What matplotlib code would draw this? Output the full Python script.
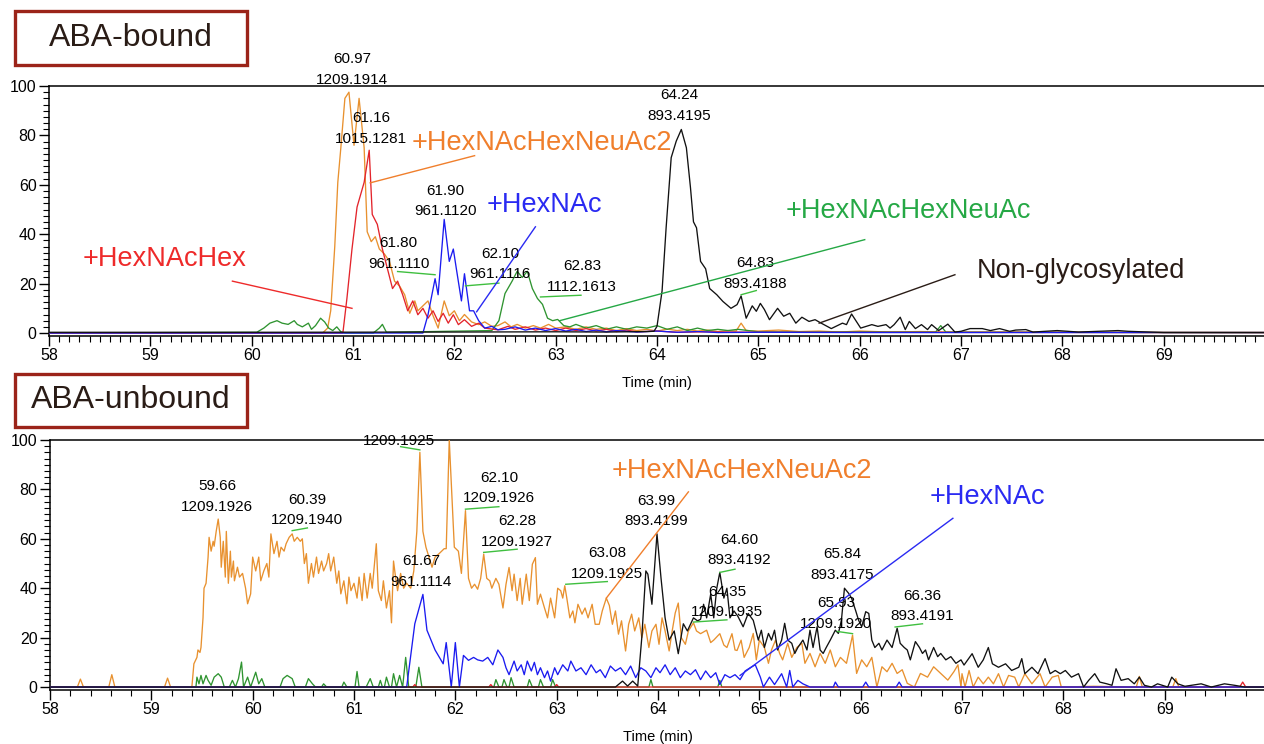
import matplotlib
matplotlib.use("Agg")
import matplotlib.pyplot as plt
from matplotlib.patches import Rectangle
from matplotlib.ticker import MultipleLocator, FixedLocator

plt.rcParams['font.family'] = ['Liberation Sans', 'DejaVu Sans']

# ---------------- ABA-bound panel (time in min, relative abundance %) ----------------
bound_orange_t = [58.0, 60.70, 60.75, 60.78, 60.82, 60.85, 60.88, 60.92, 60.96, 61.01,
                  61.06, 61.11, 61.14, 61.18, 61.22, 61.26, 61.31, 61.36, 61.41, 61.46,
                  61.51, 61.56, 61.61, 61.64, 61.69, 61.74, 61.79, 61.84, 61.90, 61.95,
                  62.00, 62.05, 62.10, 62.17, 62.24, 62.30, 62.37, 62.43, 62.50, 62.56,
                  62.62, 62.70, 62.78, 62.85, 62.93, 63.00, 63.10, 63.20, 63.30, 63.40,
                  63.50, 63.60, 63.70, 63.80, 63.90, 64.00, 64.10, 64.20, 64.30, 64.40,
                  64.50, 64.60, 64.70, 64.78, 64.83, 64.88, 65.00, 65.20, 65.40, 65.60,
                  65.80, 66.00, 66.30, 66.60, 67.00, 67.50, 68.00, 69.00, 70.00]
bound_orange_i = [0, 0, 2, 9, 35, 61, 75, 95, 97.5, 76,
                  95, 75, 41, 37, 39, 34, 32, 29, 21, 19,
                  15.5, 8, 13, 9, 11, 13, 7, 2, 13, 7,
                  9, 5, 7.5, 4.5, 3.4, 4.5, 2.7, 3, 4.5, 2.5,
                  3.5, 2, 3, 2, 3.5, 2, 2.5, 1.5, 2.5, 1.5,
                  2, 1, 1.8, 1, 1.5, 0.8, 1.6, 1, 1.5, 0.8,
                  1.2, 0.6, 1, 0.8, 4, 1, 0.8, 1.2, 0.6, 0.8,
                  0.4, 0.8, 0.4, 0.6, 0.3, 0.4, 0.3, 0.2, 0.2]

bound_red_t = [58.0, 60.90, 60.94, 60.99, 61.04, 61.11, 61.16, 61.19, 61.24, 61.29,
               61.34, 61.39, 61.44, 61.49, 61.54, 61.59, 61.64, 61.69, 61.74, 61.79,
               61.84, 61.89, 61.94, 61.99, 62.04, 62.10, 62.17, 62.24, 62.30, 62.43,
               62.53, 62.60, 62.70, 62.80, 62.90, 63.00, 63.10, 63.20, 63.30, 63.40,
               63.50, 63.60, 63.70, 63.80, 64.00, 64.20, 64.50, 65.00, 70.00]
bound_red_i = [0, 0, 14, 34, 51, 61, 74, 48, 44, 34,
               26, 18, 21, 15.5, 9, 13, 7.4, 10, 6, 9,
               4.7, 8, 4, 7.4, 3.4, 5.4, 2.7, 4, 2, 1.3,
               2.7, 1.5, 2.5, 1.2, 2, 1, 2, 1, 1.8, 0.8,
               1.5, 0.6, 1.2, 0.5, 0.8, 0.3, 0.5, 0.3, 0.2]

bound_blue_t = [58.0, 61.69, 61.74, 61.81, 61.84, 61.90, 61.95, 61.99, 62.02, 62.07,
                62.10, 62.15, 62.19, 62.24, 62.30, 62.37, 62.43, 62.50, 62.60, 62.70,
                62.80, 62.90, 63.00, 63.10, 63.20, 63.30, 63.40, 63.50, 63.60, 63.80,
                64.00, 64.20, 64.40, 64.60, 65.00, 66.00, 70.00]
bound_blue_i = [0, 0, 7.4, 22, 15.5, 46, 29, 34, 26, 13,
                24, 9, 9, 5, 2, 2.7, 1.3, 1.5, 2.5, 1.2,
                2, 1, 1.8, 0.8, 1.5, 0.6, 1.2, 0.5, 1, 0.4,
                0.8, 0.3, 0.6, 0.2, 0.3, 0.2, 0.2]

bound_green_t = [58.0, 60.05, 60.12, 60.18, 60.25, 60.30, 60.36, 60.42, 60.45, 60.50,
                 60.56, 60.59, 60.63, 60.68, 60.72, 60.76, 60.80, 60.84, 60.88, 60.92,
                 61.20, 61.26, 61.29, 61.33, 62.37, 62.44, 62.50, 62.57, 62.62, 62.67,
                 62.72, 62.77, 62.82, 62.87, 62.92, 62.97, 63.02, 63.08, 63.14, 63.20,
                 63.30, 63.40, 63.50, 63.60, 63.70, 63.80, 63.90, 64.00, 64.10, 64.20,
                 64.30, 64.40, 64.50, 64.60, 64.70, 64.80, 64.90, 65.00, 65.50, 66.00,
                 66.50, 66.75, 66.80, 66.85, 67.50, 70.00]
bound_green_i = [0, 0.3, 2, 4, 5, 4, 3.5, 5, 3.5, 2.5,
                 4, 1.5, 3, 6, 4.5, 2, 1, 2.5, 0.5, 0,
                 0, 2, 3.5, 0.3, 1, 5, 16, 21, 25, 22.5,
                 25, 18, 14, 11.6, 6, 5, 5.5, 3, 2.5, 3.5,
                 2, 3, 1.5, 2.5, 1.5, 2.5, 2, 3, 1.5, 2.5,
                 1, 2, 1, 1.5, 1, 1.5, 1, 0.5, 0.4, 0.5,
                 0.4, 0.4, 3, 0.4, 0.3, 0.2]

bound_black_t = [58.0, 60.0, 62.0, 63.0, 63.5, 63.9, 63.97, 64.00, 64.05, 64.09,
                 64.14, 64.19, 64.24, 64.29, 64.33, 64.36, 64.39, 64.43, 64.48, 64.52,
                 64.59, 64.65, 64.73, 64.79, 64.83, 64.88, 64.94, 64.98, 65.02, 65.06,
                 65.11, 65.19, 65.25, 65.31, 65.37, 65.43, 65.50, 65.56, 65.62, 65.72,
                 65.83, 65.87, 65.92, 66.01, 66.12, 66.18, 66.26, 66.30, 66.34, 66.40,
                 66.45, 66.49, 66.55, 66.61, 66.67, 66.71, 66.78, 66.87, 66.94, 67.00,
                 67.09, 67.21, 67.29, 67.38, 67.48, 67.54, 67.64, 67.71, 67.95, 68.16,
                 68.55, 68.65, 69.00, 70.00]
bound_black_i = [0.3, 0.3, 0.4, 0.5, 0.4, 0.6, 0.7, 2.7, 17, 42.6,
                 71, 77.7, 82.4, 75, 59, 45, 42.6, 29, 26, 18,
                 15.5, 12.8, 10, 11.5, 15, 6, 11, 8.8, 12, 9.5,
                 5.4, 10, 6.8, 8, 4, 6.4, 4.7, 5.4, 4, 1.8,
                 4, 3.4, 7.7, 2, 3.4, 2.7, 3.4, 2, 3.4, 6.4,
                 1.4, 4.7, 1.8, 3.4, 1.4, 3.4, 1, 3.6, 0.4, 0.7,
                 1.8, 1.8, 1, 1.8, 0.7, 1.2, 1.4, 0.4, 1, 0.4,
                 1, 0.7, 0.2, 0.2]

# ---------------- ABA-unbound panel ----------------
unbound_orange_t = [58.0, 58.27, 58.30, 58.33, 58.58, 58.61, 58.64, 59.13, 59.16, 59.19,
                    59.40, 59.42, 59.45, 59.46, 59.48, 59.49, 59.51, 59.52, 59.54, 59.56,
                    59.57, 59.59, 59.61, 59.62, 59.64, 59.66, 59.68, 59.69, 59.71, 59.73,
                    59.74, 59.76, 59.78, 59.79, 59.81, 59.82, 59.85, 59.87, 59.90, 59.93,
                    59.95, 59.98, 60.00, 60.03, 60.06, 60.08, 60.11, 60.14, 60.16, 60.18,
                    60.21, 60.24, 60.26, 60.28, 60.31, 60.33, 60.36, 60.39, 60.41, 60.44,
                    60.47, 60.49, 60.51, 60.53, 60.55, 60.58, 60.60, 60.63, 60.65, 60.68,
                    60.70, 60.73, 60.75, 60.77, 60.80, 60.83, 60.85, 60.87, 60.90, 60.93,
                    60.95, 60.97, 61.00, 61.03, 61.05, 61.08, 61.10, 61.13, 61.16, 61.18,
                    61.22, 61.24, 61.27, 61.29, 61.32, 61.35, 61.37, 61.39, 61.41, 61.43,
                    61.46, 61.49, 61.52, 61.56, 61.59, 61.62, 61.65, 61.68, 61.71, 61.74,
                    61.77, 61.80, 61.84, 61.89, 61.91, 61.94, 61.99, 62.03, 62.06, 62.10,
                    62.13, 62.16, 62.19, 62.22, 62.25, 62.28, 62.31, 62.34, 62.36, 62.40,
                    62.43, 62.47, 62.50, 62.53, 62.56, 62.58, 62.61, 62.64, 62.66, 62.70,
                    62.73, 62.76, 62.79, 62.81, 62.84, 62.88, 62.91, 62.94, 62.98, 63.01,
                    63.04, 63.06, 63.08, 63.10, 63.13, 63.16, 63.18, 63.21, 63.25, 63.28,
                    63.31, 63.35, 63.38, 63.42, 63.45, 63.49, 63.52, 63.55, 63.58, 63.61,
                    63.64, 63.68, 63.71, 63.74, 63.77, 63.81, 63.84, 63.87, 63.91, 63.94,
                    63.98, 64.01, 64.04, 64.07, 64.11, 64.14, 64.17, 64.20, 64.23, 64.27,
                    64.30, 64.35, 64.38, 64.42, 64.48, 64.52, 64.55, 64.61, 64.65, 64.68,
                    64.73, 64.76, 64.78, 64.82, 64.85, 64.90, 64.94, 64.97, 65.00, 65.05,
                    65.09, 65.12, 65.16, 65.20, 65.23, 65.28, 65.32, 65.37, 65.42, 65.45,
                    65.50, 65.55, 65.60, 65.65, 65.70, 65.75, 65.80, 65.86, 65.92, 65.96,
                    66.01, 66.06, 66.11, 66.16, 66.21, 66.26, 66.31, 66.36, 66.41, 66.46,
                    66.53, 66.59, 66.66, 66.72, 66.79, 66.86, 66.92, 66.96, 66.99, 67.00,
                    67.03, 67.07, 67.11, 67.16, 67.21, 67.26, 67.31, 67.36, 67.41, 67.46,
                    67.52, 67.56, 67.62, 67.69, 67.77, 67.82, 67.89, 67.95, 67.98, 68.30,
                    68.72, 68.75, 68.78, 69.08, 69.11, 69.14, 70.00]
unbound_orange_i = [0, 0, 3.2, 0, 0, 5, 0, 0, 3.6, 0,
                    0, 9.4, 12, 15, 14, 16, 28, 40, 42, 52.6,
                    60.6, 55, 59, 57, 63, 68, 60.6, 48.5, 59, 44.5,
                    63, 42, 55, 44.5, 51, 43, 48.5, 44.5, 46, 40,
                    33.7, 37.7, 52.6, 47, 52.6, 43, 47, 50, 44.5, 62,
                    54, 59, 52.6, 56.6, 55, 58, 60.6, 62, 59, 60.6,
                    59, 60, 50, 54, 42, 50, 44.5, 52.6, 46, 51,
                    47, 50, 54, 47, 52.6, 42, 47, 37.7, 43, 33.7,
                    44.5, 39, 42, 36, 44.5, 35, 46, 36, 46, 40,
                    58, 39, 35, 43, 32, 39, 26, 51, 44.5, 39,
                    46, 40, 42, 40, 47, 63, 95, 63, 56.6, 52.6,
                    48.5, 52.6, 54, 56, 56, 100, 56.6, 55, 46, 71.4,
                    44, 40, 41.6, 39.6, 44, 53.8, 44, 43, 40, 44,
                    41.6, 32, 41.6, 48.4, 39, 45.7, 35, 44, 33.5, 45.7,
                    35, 49.7, 52.4, 33.5, 37.6, 32, 28, 36, 28, 40,
                    39, 36, 41, 36, 28, 30.8, 26, 33.5, 29.5, 32,
                    28, 33.5, 25.4, 25.4, 30.8, 36, 33, 25.4, 30.8, 21.4,
                    26.8, 14.6, 25.4, 29.5, 22.7, 28, 20, 25.4, 16, 22.7,
                    25.4, 17.3, 28, 22.7, 14.6, 22.7, 30, 34, 20, 17.3,
                    22.7, 26, 22.7, 21.6, 23, 18, 19, 21.6, 17, 16,
                    21.6, 15, 14.8, 19, 12, 16, 21.7, 11, 19, 16,
                    9.6, 15, 19, 13.6, 11, 17.7, 12, 16, 17.7, 9.6,
                    13.6, 8.2, 13.6, 9.6, 15, 8.2, 12, 9.6, 21, 5.5,
                    11, 8.2, 12, 0, 8.2, 6.2, 9.6, 5.5, 7, 1.5,
                    0, 5.5, 4, 8.2, 5.5, 2.8, 6.2, 9, 0, 5.4,
                    0, 6.7, 0, 4, 1.3, 4, 1.3, 5.4, 0, 4.7,
                    4, 0, 5.4, 1.3, 5.4, 0, 4, 4.7, 0, 0.3,
                    0, 4.3, 0, 0, 3.4, 0, 0]

unbound_blue_t = [58.0, 61.52, 61.60, 61.68, 61.72, 61.80, 61.88, 61.91, 61.96, 62.00,
                  62.04, 62.08, 62.13, 62.18, 62.22, 62.27, 62.32, 62.37, 62.42, 62.47,
                  62.50, 62.53, 62.58, 62.61, 62.65, 62.68, 62.71, 62.75, 62.78, 62.81,
                  62.84, 62.88, 62.91, 62.94, 62.98, 63.01, 63.06, 63.11, 63.14, 63.19,
                  63.24, 63.29, 63.34, 63.39, 63.43, 63.48, 63.53, 63.58, 63.63, 63.68,
                  63.73, 63.78, 63.83, 63.88, 63.93, 63.98, 64.02, 64.07, 64.12, 64.17,
                  64.22, 64.27, 64.32, 64.37, 64.42, 64.47, 64.52, 64.57, 64.61, 64.66,
                  64.71, 64.76, 64.81, 64.86, 64.91, 64.96, 65.01, 65.04, 65.10, 65.15,
                  65.22, 65.27, 65.30, 65.33, 65.38, 65.43, 65.50, 65.73, 65.75, 65.78,
                  66.02, 66.05, 66.08, 66.35, 66.38, 66.41, 70.00]
unbound_blue_i = [0, 0, 25.6, 37.5, 23, 15, 9.4, 18, 0, 18,
                  0, 12.8, 10.8, 12, 11, 10.5, 12, 9, 15, 12,
                  7.8, 5, 10.5, 6.5, 9, 5, 10.5, 6.5, 10, 5,
                  7.8, 3.8, 6.5, 2.4, 7.8, 5, 9, 6.5, 10.5, 6.5,
                  7.8, 5, 9, 5.8, 7, 3.8, 8.5, 6.5, 7.8, 5,
                  8.5, 3.8, 7.8, 6.5, 3.8, 7.8, 5.8, 9, 5, 7.8,
                  3.8, 6.5, 5, 7, 3, 6.5, 3.8, 5.8, 1, 5,
                  3.8, 5, 3, 6.5, 7.8, 9, 4, 0, 4, 1,
                  5.4, 0, 6.7, 0, 2.7, 1.3, 0, 0, 2, 0,
                  0, 2, 0, 0, 2, 0, 0]

unbound_green_t = [58.0, 59.44, 59.45, 59.47, 59.49, 59.51, 59.54, 59.56, 59.59, 59.62,
                   59.66, 59.69, 59.72, 59.77, 59.80, 59.83, 59.86, 59.89, 59.91, 59.95,
                   59.98, 60.03, 60.06, 60.09, 60.12, 60.27, 60.30, 60.34, 60.39, 60.42,
                   60.52, 60.55, 60.59, 60.62, 60.68, 60.70, 60.73, 60.88, 60.90, 60.93,
                   61.01, 61.03, 61.05, 61.12, 61.16, 61.19, 61.24, 61.26, 61.28, 61.30,
                   61.32, 61.35, 61.37, 61.39, 61.42, 61.45, 61.48, 61.51, 61.54, 61.61,
                   61.64, 61.67, 62.38, 62.40, 62.43, 62.46, 62.48, 62.51, 62.53, 62.55,
                   62.58, 62.71, 62.73, 62.76, 62.82, 62.84, 62.87, 62.94, 62.96, 62.99,
                   63.91, 63.93, 63.95, 64.59, 64.61, 64.63, 70.00]
unbound_green_i = [0, 0, 4, 1.3, 4.7, 1.3, 4.7, 2.7, 0.7, 4,
                   5.4, 4, 0, 0, 2.7, 0, 3.4, 10.1, 0, 4,
                   0, 6, 1.3, 3.4, 0, 0, 3.4, 4.7, 3.4, 0,
                   0, 3.4, 1.3, 0, 0, 1.3, 0, 0, 2, 0,
                   0, 6.3, 0, 0, 3.4, 0, 0, 2.7, 0, 0,
                   4, 0, 0, 5.4, 0, 4.7, 0, 12, 0, 0,
                   8, 0, 0, 3, 0, 0, 3, 0, 0, 3.8,
                   0, 0, 3, 0, 0, 3, 0, 0, 3, 0,
                   0, 3, 0, 0, 2.7, 0, 0]

unbound_red_t = [58.0, 61.58, 61.60, 61.62, 62.33, 62.35, 62.37, 62.98, 63.00, 63.02,
                 69.74, 69.77, 69.80, 70.00]
unbound_red_i = [0, 0, 1, 0, 0, 1, 0, 0, 1, 0,
                 0, 2, 0, 0]

unbound_black_t = [58.0, 63.58, 63.65, 63.70, 63.75, 63.80, 63.84, 63.88, 63.90, 63.94,
                   63.99, 64.03, 64.07, 64.11, 64.16, 64.20, 64.25, 64.29, 64.32, 64.35,
                   64.39, 64.42, 64.45, 64.48, 64.52, 64.55, 64.58, 64.61, 64.65, 64.68,
                   64.71, 64.75, 64.79, 64.84, 64.89, 64.94, 64.99, 65.02, 65.05, 65.09,
                   65.12, 65.15, 65.18, 65.22, 65.25, 65.28, 65.32, 65.35, 65.38, 65.43,
                   65.47, 65.50, 65.53, 65.57, 65.60, 65.63, 65.66, 65.70, 65.75, 65.78,
                   65.81, 65.84, 65.88, 65.91, 65.95, 65.98, 66.01, 66.05, 66.08, 66.11,
                   66.14, 66.18, 66.21, 66.26, 66.31, 66.36, 66.39, 66.43, 66.46, 66.49,
                   66.54, 66.58, 66.61, 66.64, 66.67, 66.72, 66.76, 66.79, 66.84, 66.89,
                   66.94, 66.99, 67.02, 67.10, 67.16, 67.21, 67.26, 67.30, 67.36, 67.43,
                   67.49, 67.56, 67.59, 67.62, 67.69, 67.75, 67.82, 67.87, 67.92, 67.97,
                   68.02, 68.08, 68.15, 68.20, 68.25, 68.31, 68.36, 68.43, 68.48, 68.52,
                   68.57, 68.64, 68.70, 68.75, 68.80, 68.87, 68.93, 69.03, 69.07, 69.13,
                   69.20, 69.36, 69.46, 69.59, 69.69, 69.79, 70.00]
unbound_black_i = [0, 0, 2.4, 0.4, 2.4, 0.4, 20, 47, 45.7, 33.5,
                   62, 44, 28, 19, 22.7, 13.5, 25.6, 22.7, 25.4, 28,
                   26.8, 27.4, 33.5, 28, 37.6, 28, 40, 46.4, 36, 40,
                   28, 30.8, 28.5, 24.4, 29.8, 27, 19, 23, 16, 21.7,
                   19, 23, 15, 19, 25.8, 19, 17.7, 13.6, 16, 19,
                   15, 23, 16, 24.4, 15, 13.6, 16, 19, 23, 21.7,
                   27, 40, 38, 36, 31, 27, 24.4, 30.5, 29.8, 19,
                   16, 17.7, 15, 19, 16, 23.8, 17.7, 16, 15, 11,
                   18.4, 16, 13.6, 15, 11, 16, 12.3, 13.6, 11, 12.3,
                   9.6, 11, 8.9, 13.5, 8, 11, 16, 9.4, 8, 9.4,
                   6.7, 8, 11.5, 5.4, 8, 5.4, 11.5, 5.4, 6.7, 5.4,
                   6.7, 4, 5.4, 0, 2.7, 5.4, 2, 1.3, 0.7, 7.4,
                   2.7, 3.4, 1.3, 4, 0.7, 0, 1.3, 0, 4, 1.3,
                   0.3, 1.3, 0, 1.3, 0.7, 0, 0]

# peak labels: retention time / m/z
bound_peak_labels = ["60.97\n1209.1914", "61.16\n1015.1281", "61.90\n961.1120",
                     "61.80\n961.1110", "62.10\n961.1116", "62.83\n1112.1613",
                     "64.24\n893.4195", "64.83\n893.4188"]
unbound_peak_labels = ["59.66\n1209.1926", "60.39\n1209.1940", "1209.1925",
                       "61.67\n961.1114", "62.10\n1209.1926", "62.28\n1209.1927",
                       "63.08\n1209.1925", "63.99\n893.4199", "64.60\n893.4192",
                       "64.35\n1209.1935", "65.84\n893.4175", "65.93\n1209.1920",
                       "66.36\n893.4191"]
trace_names = ["+HexNAcHexNeuAc2", "+HexNAc", "+HexNAcHexNeuAc", "+HexNAcHex",
               "Non-glycosylated"]
panel_titles = ["ABA-bound", "ABA-unbound"]

# ---------------- styling ----------------
C_OR = "#e8912f"
C_RED = "#e3242b"
C_BLUE = "#1b1bf0"
C_GREEN = "#2f9430"
C_BLACK = "#111111"
T_OR = "#f07f2c"
T_RED = "#ee2a2a"
T_BLUE = "#2a2af2"
T_GREEN = "#25a845"
T_DARK = "#2a1c16"
LEAD_G = "#3fbf3f"
LW = 0.95

fig = plt.figure(figsize=(12.64, 7.44), dpi=100)
W, H = 1264.0, 744.0
ax1 = fig.add_axes([49 / W, 1 - 335.5 / H, 1216 / W, 249.5 / H])
ax2 = fig.add_axes([50 / W, 1 - 689.5 / H, 1216 / W, 249.5 / H])


def style_axis(ax, minor_x):
    ax.set_xlim(58, 70)
    ax.set_ylim(-1, 100)
    ax.spines['right'].set_visible(False)
    for s in ('top', 'left', 'bottom'):
        ax.spines[s].set_linewidth(1.1)
        ax.spines[s].set_color('black')
    ax.xaxis.set_major_locator(FixedLocator(list(range(58, 70))))
    ax.xaxis.set_minor_locator(MultipleLocator(minor_x))
    ax.yaxis.set_major_locator(MultipleLocator(20))
    ax.yaxis.set_minor_locator(MultipleLocator(2.5))
    ax.tick_params(axis='both', which='major', direction='out', length=7,
                   width=1.0, labelsize=11.5, pad=2)
    ax.tick_params(axis='both', which='minor', direction='out', length=4, width=0.8)
    ax.set_xlabel("Time (min)", fontsize=10.5, labelpad=9)


style_axis(ax1, 0.1)
style_axis(ax2, 0.2)

# traces
ax1.plot(bound_orange_t, bound_orange_i, color=C_OR, lw=LW, zorder=3)
ax1.plot(bound_green_t, bound_green_i, color=C_GREEN, lw=LW, zorder=3)
ax1.plot(bound_red_t, bound_red_i, color=C_RED, lw=LW, zorder=4)
ax1.plot(bound_blue_t, bound_blue_i, color=C_BLUE, lw=LW, zorder=4)
ax1.plot(bound_black_t, bound_black_i, color=C_BLACK, lw=LW, zorder=5)

ax2.plot(unbound_orange_t, unbound_orange_i, color=C_OR, lw=LW, zorder=3)
ax2.plot(unbound_green_t, unbound_green_i, color=C_GREEN, lw=LW, zorder=3)
ax2.plot(unbound_red_t, unbound_red_i, color=C_RED, lw=LW, zorder=3)
ax2.plot(unbound_blue_t, unbound_blue_i, color=C_BLUE, lw=LW, zorder=4)
ax2.plot(unbound_black_t, unbound_black_i, color=C_BLACK, lw=LW, zorder=5)

# peak label positions (layout)
pos1 = [(60.99, 106.7), (61.18, 82.8), (61.91, 53.5), (61.45, 32.2),
        (62.45, 27.9), (63.26, 23.0), (64.22, 92.2), (64.97, 24.2)]
pos2 = [(59.65, 77.2), (60.54, 71.6), (61.44, 99.7), (61.66, 46.7),
        (62.43, 80.5), (62.61, 62.9), (63.50, 50.1), (63.98, 71.3),
        (64.80, 55.5), (64.68, 34.5), (65.82, 49.5), (65.76, 29.8),
        (66.61, 32.8)]
for ax, labs, pos in ((ax1, bound_peak_labels, pos1), (ax2, unbound_peak_labels, pos2)):
    for s, (x, y) in zip(labs, pos):
        ax.text(x, y, s, ha='center', va='center', fontsize=11,
                linespacing=1.6, color='black', clip_on=False, zorder=6)

# short green leader lines
lead1 = [((61.44, 24.9), (61.81, 23.6)), ((62.11, 19.1), (62.44, 20.2)),
         ((62.85, 14.6), (63.25, 15.3)), ((64.83, 15.5), (64.98, 17.2))]
lead2 = [((60.39, 63.3), (60.54, 64.4)), ((61.46, 97.3), (61.65, 96.0)),
         ((62.10, 72.0), (62.43, 73.0)), ((62.28, 54.5), (62.61, 55.8)),
         ((63.09, 41.6), (63.50, 42.7)), ((64.61, 46.4), (64.76, 47.7)),
         ((64.35, 26.3), (64.68, 27.2)), ((65.77, 22.5), (65.92, 21.6)),
         ((66.34, 24.3), (66.61, 25.6))]
for ax, leads in ((ax1, lead1), (ax2, lead2)):
    for (x0, y0), (x1, y1) in leads:
        ax.plot([x0, x1], [y0, y1], color=LEAD_G, lw=1.0, zorder=6, clip_on=False)

# big trace-name labels with long leader lines
FS = 19.5
ax1.text(61.58, 77, trace_names[0], color=T_OR, fontsize=FS, va='center', ha='left')
ax1.plot([61.17, 62.20], [60.8, 71.8], color=T_OR, lw=1.0, zorder=6)
ax1.text(62.32, 52, trace_names[1], color=T_BLUE, fontsize=FS, va='center', ha='left')
ax1.plot([62.22, 62.80], [8.6, 43], color=T_BLUE, lw=1.0, zorder=6)
ax1.text(65.27, 49.4, trace_names[2], color=T_GREEN, fontsize=FS, va='center', ha='left')
ax1.plot([63.04, 66.05], [5, 37.8], color=T_GREEN, lw=1.0, zorder=6)
ax1.text(58.33, 30, trace_names[3], color=T_RED, fontsize=FS, va='center', ha='left')
ax1.plot([59.81, 60.99], [21, 10], color=T_RED, lw=1.0, zorder=6)
ax1.text(67.16, 25, trace_names[4], color=T_DARK, fontsize=FS, va='center', ha='left')
ax1.plot([65.60, 66.94], [4, 23.6], color=T_DARK, lw=1.0, zorder=6)

ax2.text(63.54, 87.4, trace_names[0], color=T_OR, fontsize=FS, va='center', ha='left')
ax2.plot([63.49, 64.30], [36, 79], color=T_OR, lw=1.0, zorder=6)
ax2.text(66.68, 77, trace_names[1], color=T_BLUE, fontsize=FS, va='center', ha='left')
ax2.plot([64.81, 66.91], [4.7, 68.3], color=T_BLUE, lw=1.0, zorder=6)

# panel title boxes
for (y_top, y_bot, ty), title in zip(((11.5, 64.5, 38.5), (373.5, 426.5, 399.5)), panel_titles):
    fig.patches.append(Rectangle((14.5 / W, 1 - y_bot / H), (246.5 - 14.5) / W,
                                 (y_bot - y_top) / H, transform=fig.transFigure,
                                 facecolor='white', edgecolor='#9b2419', lw=2.4))
    fig.text(130.5 / W, 1 - ty / H, title, ha='center', va='center',
             fontsize=23, color=T_DARK)

fig.savefig("out.png", dpi=100)
